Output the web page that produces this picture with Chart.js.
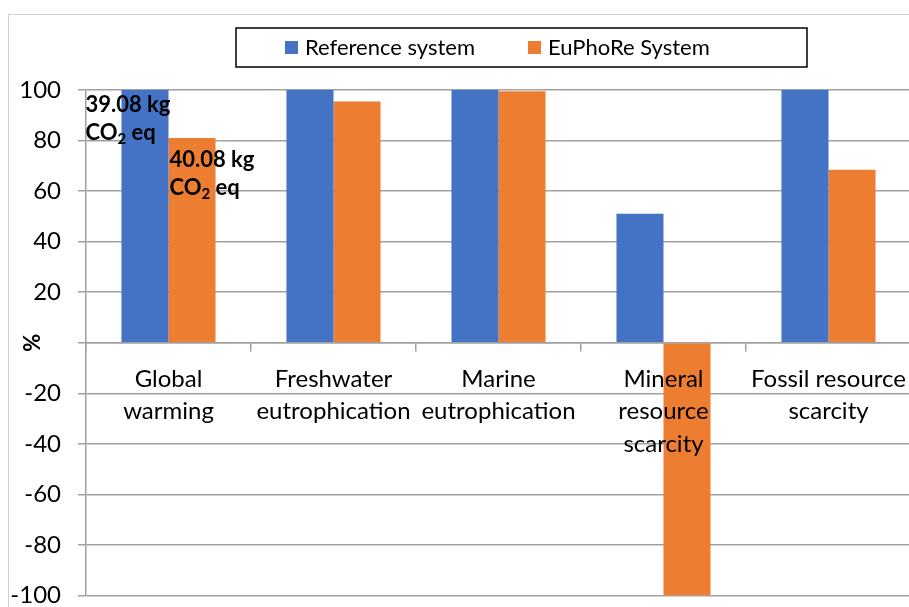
<!DOCTYPE html>
<html>
<head>
<meta charset="utf-8">
<script src="https://cdn.jsdelivr.net/npm/chart.js@4.4.1/dist/chart.umd.min.js"></script>
<style>
    html, body { margin: 0; padding: 0; background: #fff; }
    #wrap { width: 909px; height: 607px; overflow: hidden; }
</style>
</head>
<body>
<div id="wrap"><canvas id="impactChart" width="923" height="627"></canvas></div>
<script>
// impact categories and relative scores (%), reference system = 100
const categories = [
    ['Global', 'warming'],
    ['Freshwater', 'eutrophication'],
    ['Marine', 'eutrophication'],
    ['Mineral', 'resource', 'scarcity'],
    ['Fossil resource', 'scarcity']
];
const referenceValues = [100, 100, 100, 51, 100];
const euphoreValues = [81, 95.5, 99.5, -100, 68.5];
const seriesNames = ['Reference system', 'EuPhoRe System'];
const gwLabels = ['39.08 kg', '40.08 kg'];

const BLUE = '#4472C4';
const ORANGE = '#ED7D31';
const GRID = '#a0a0a0';
const FONT = 'Lato';

// light frame round the whole chart
const framePlugin = {
    id: 'frame',
    beforeDraw(chart) {
        const ctx = chart.ctx;
        ctx.save();
        ctx.strokeStyle = '#d0d0d0';
        ctx.lineWidth = 1;
        ctx.strokeRect(8.5, 14.5, 2000, 2000);
        ctx.restore();
    }
};

// boxed legend like the Excel original
const boxLegendPlugin = {
    id: 'boxLegend',
    afterDraw(chart) {
        const ctx = chart.ctx;
        ctx.save();
        ctx.strokeStyle = '#000';
        ctx.lineWidth = 1.5;
        ctx.strokeRect(236, 28, 571, 39);
        ctx.font = `22px ${FONT}`;
        ctx.textBaseline = 'middle';
        const starts = [285, 528];
        chart.data.datasets.forEach((ds, i) => {
            ctx.fillStyle = ds.backgroundColor;
            ctx.fillRect(starts[i], 41, 13, 13);
            ctx.fillStyle = '#000';
            ctx.fillText(ds.label, starts[i] + 20, 48);
        });
        ctx.restore();
    }
};

// the "kg CO2 eq" notes on the global warming bars
const gwNotePlugin = {
    id: 'gwNote',
    afterDatasetsDraw(chart) {
        const ctx = chart.ctx;
        const offsets = [{ dx: -36, dy: 15 }, { dx: 1, dy: 22 }];
        ctx.save();
        ctx.fillStyle = '#000';
        ctx.textBaseline = 'middle';
        ctx.textAlign = 'left';
        gwLabels.forEach((txt, i) => {
            const bar = chart.getDatasetMeta(i).data[0];
            const x = bar.x - bar.width / 2 + offsets[i].dx;
            const y = bar.y + offsets[i].dy;
            ctx.font = `bold 22px ${FONT}`;
            ctx.fillText(txt, x, y);
            const y2 = y + 28;
            ctx.fillText('CO', x, y2);
            const w = ctx.measureText('CO').width;
            ctx.font = `bold 15px ${FONT}`;
            ctx.fillText('2', x + w, y2 + 6);
            const w2 = ctx.measureText('2').width;
            ctx.font = `bold 22px ${FONT}`;
            ctx.fillText(' eq', x + w + w2, y2);
        });
        ctx.restore();
    }
};

const ctx = document.getElementById('impactChart').getContext('2d');
new Chart(ctx, {
    type: 'bar',
    data: {
        labels: categories,
        datasets: [
            { label: seriesNames[0], data: referenceValues, backgroundColor: BLUE },
            { label: seriesNames[1], data: euphoreValues, backgroundColor: ORANGE }
        ]
    },
    options: {
        responsive: false,
        animation: false,
        devicePixelRatio: 1,
        layout: { padding: { left: 0, right: 12, top: 90, bottom: 12 } },
        datasets: {
            bar: { categoryPercentage: 0.57, barPercentage: 1.0 }
        },
        plugins: {
            legend: { display: false },
            tooltip: { enabled: false }
        },
        scales: {
            x: {
                position: { y: 0 },
                offset: true,
                grid: {
                    display: true,
                    offset: true,
                    drawOnChartArea: false,
                    drawTicks: true,
                    tickLength: 8,
                    color: GRID,
                    lineWidth: 1.5
                },
                border: { display: true, color: GRID, width: 1.5 },
                ticks: {
                    z: 1,
                    color: '#000',
                    padding: 12,
                    maxRotation: 0,
                    autoSkip: false,
                    font: { family: FONT, size: 24, lineHeight: 1.35 }
                }
            },
            y: {
                min: -100,
                max: 100,
                afterFit(scale) { scale.width = 86; },
                ticks: {
                    stepSize: 20,
                    color: '#000',
                    padding: 17,
                    font: { family: FONT, size: 24 },
                    // the zero line carries the category labels, so no "0"
                    callback: (v) => (v === 0 ? '' : v)
                },
                grid: {
                    color: GRID,
                    lineWidth: 1.5,
                    tickLength: 8
                },
                border: { display: true, color: GRID, width: 1.5 },
                title: {
                    display: true,
                    text: '%',
                    color: '#000',
                    padding: { top: 20, bottom: 0 },
                    font: { family: FONT, size: 22, weight: 'bold' }
                }
            }
        }
    },
    plugins: [framePlugin, boxLegendPlugin, gwNotePlugin]
});
</script>
</body>
</html>
